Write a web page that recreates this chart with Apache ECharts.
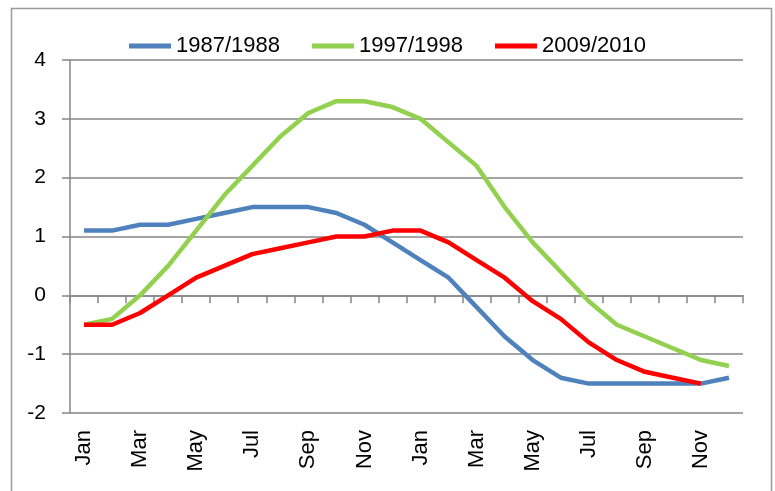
<!DOCTYPE html>
<html>
<head>
<meta charset="utf-8">
<script src="https://cdn.jsdelivr.net/npm/echarts@6/dist/echarts.min.js"></script>
<style>
  html, body { margin: 0; padding: 0; background: #fff; }
  #main { width: 775px; height: 491px; }
</style>
</head>
<body>
<div id="main"></div>
<script>
// two seasons of months
const months = ["Jan", "Feb", "Mar", "Apr", "May", "Jun", "Jul", "Aug", "Sep", "Oct", "Nov", "Dec",
  "Jan", "Feb", "Mar", "Apr", "May", "Jun", "Jul", "Aug", "Sep", "Oct", "Nov", "Dec"];

const s1987 = [1.1, 1.1, 1.2, 1.2, 1.3, 1.4, 1.5, 1.5, 1.5, 1.4, 1.2, 0.9,
  0.6, 0.3, -0.2, -0.7, -1.1, -1.4, -1.5, -1.5, -1.5, -1.5, -1.5, -1.4];
const s1997 = [-0.5, -0.4, 0.0, 0.5, 1.1, 1.7, 2.2, 2.7, 3.1, 3.3, 3.3, 3.2,
  3.0, 2.6, 2.2, 1.5, 0.9, 0.4, -0.1, -0.5, -0.7, -0.9, -1.1, -1.2];
const s2009 = [-0.5, -0.5, -0.3, 0.0, 0.3, 0.5, 0.7, 0.8, 0.9, 1.0, 1.0, 1.1,
  1.1, 0.9, 0.6, 0.3, -0.1, -0.4, -0.8, -1.1, -1.3, -1.4, -1.5, null];

const seriesNames = ["1987/1988", "1997/1998", "2009/2010"];
const colors = ["#4F81BD", "#92D050", "#FF0000"];

const axisGray = "#868686";
const font = "'Liberation Sans', Arial, sans-serif";

const myChart = echarts.init(document.getElementById("main"));
const option = {
  animation: false,
  color: colors,
  textStyle: { fontFamily: font },
  graphic: [
    {
      type: "rect",
      shape: { x: 11.5, y: 8.5, width: 760, height: 520 },
      style: { fill: "none", stroke: "#9a9a9a", lineWidth: 1.5 },
      silent: true
    }
  ],
  legend: {
    top: 30,
    left: "center",
    icon: "rect",
    itemWidth: 42,
    itemHeight: 5,
    itemGap: 32,
    textStyle: { fontSize: 22, color: "#000", fontFamily: font },
    data: seriesNames
  },
  grid: { left: 70, right: 32, top: 60, bottom: 78 },
  xAxis: [
    {
      type: "category",
      data: months,
      boundaryGap: true,
      axisLine: { onZero: true, lineStyle: { color: axisGray, width: 1.5 } },
      axisTick: { show: true, interval: 0, length: 8, lineStyle: { color: axisGray, width: 1.5 } },
      axisLabel: { show: false },
      splitLine: { show: false }
    },
    {
      type: "category",
      data: months,
      position: "bottom",
      boundaryGap: true,
      axisLine: { show: false, onZero: false },
      axisTick: { show: false },
      axisLabel: {
        interval: 1,
        rotate: 90,
        margin: 17,
        fontSize: 22,
        color: "#000",
        fontFamily: font
      },
      splitLine: { show: false }
    }
  ],
  yAxis: {
    type: "value",
    min: -2,
    max: 4,
    interval: 1,
    axisLine: { show: true, lineStyle: { color: axisGray, width: 1.5 } },
    axisTick: { show: true, length: 8, lineStyle: { color: axisGray, width: 1.5 } },
    axisLabel: { margin: 24, fontSize: 21, color: "#000", fontFamily: font },
    splitLine: { show: true, lineStyle: { color: axisGray, width: 1.5 } }
  },
  series: [
    {
      name: seriesNames[0],
      type: "line",
      data: s1987,
      showSymbol: false,
      lineStyle: { width: 4.5, color: colors[0] }
    },
    {
      name: seriesNames[1],
      type: "line",
      data: s1997,
      showSymbol: false,
      lineStyle: { width: 4.5, color: colors[1] }
    },
    {
      name: seriesNames[2],
      type: "line",
      data: s2009,
      showSymbol: false,
      lineStyle: { width: 4.5, color: colors[2] }
    }
  ]
};
myChart.setOption(option);
</script>
</body>
</html>
